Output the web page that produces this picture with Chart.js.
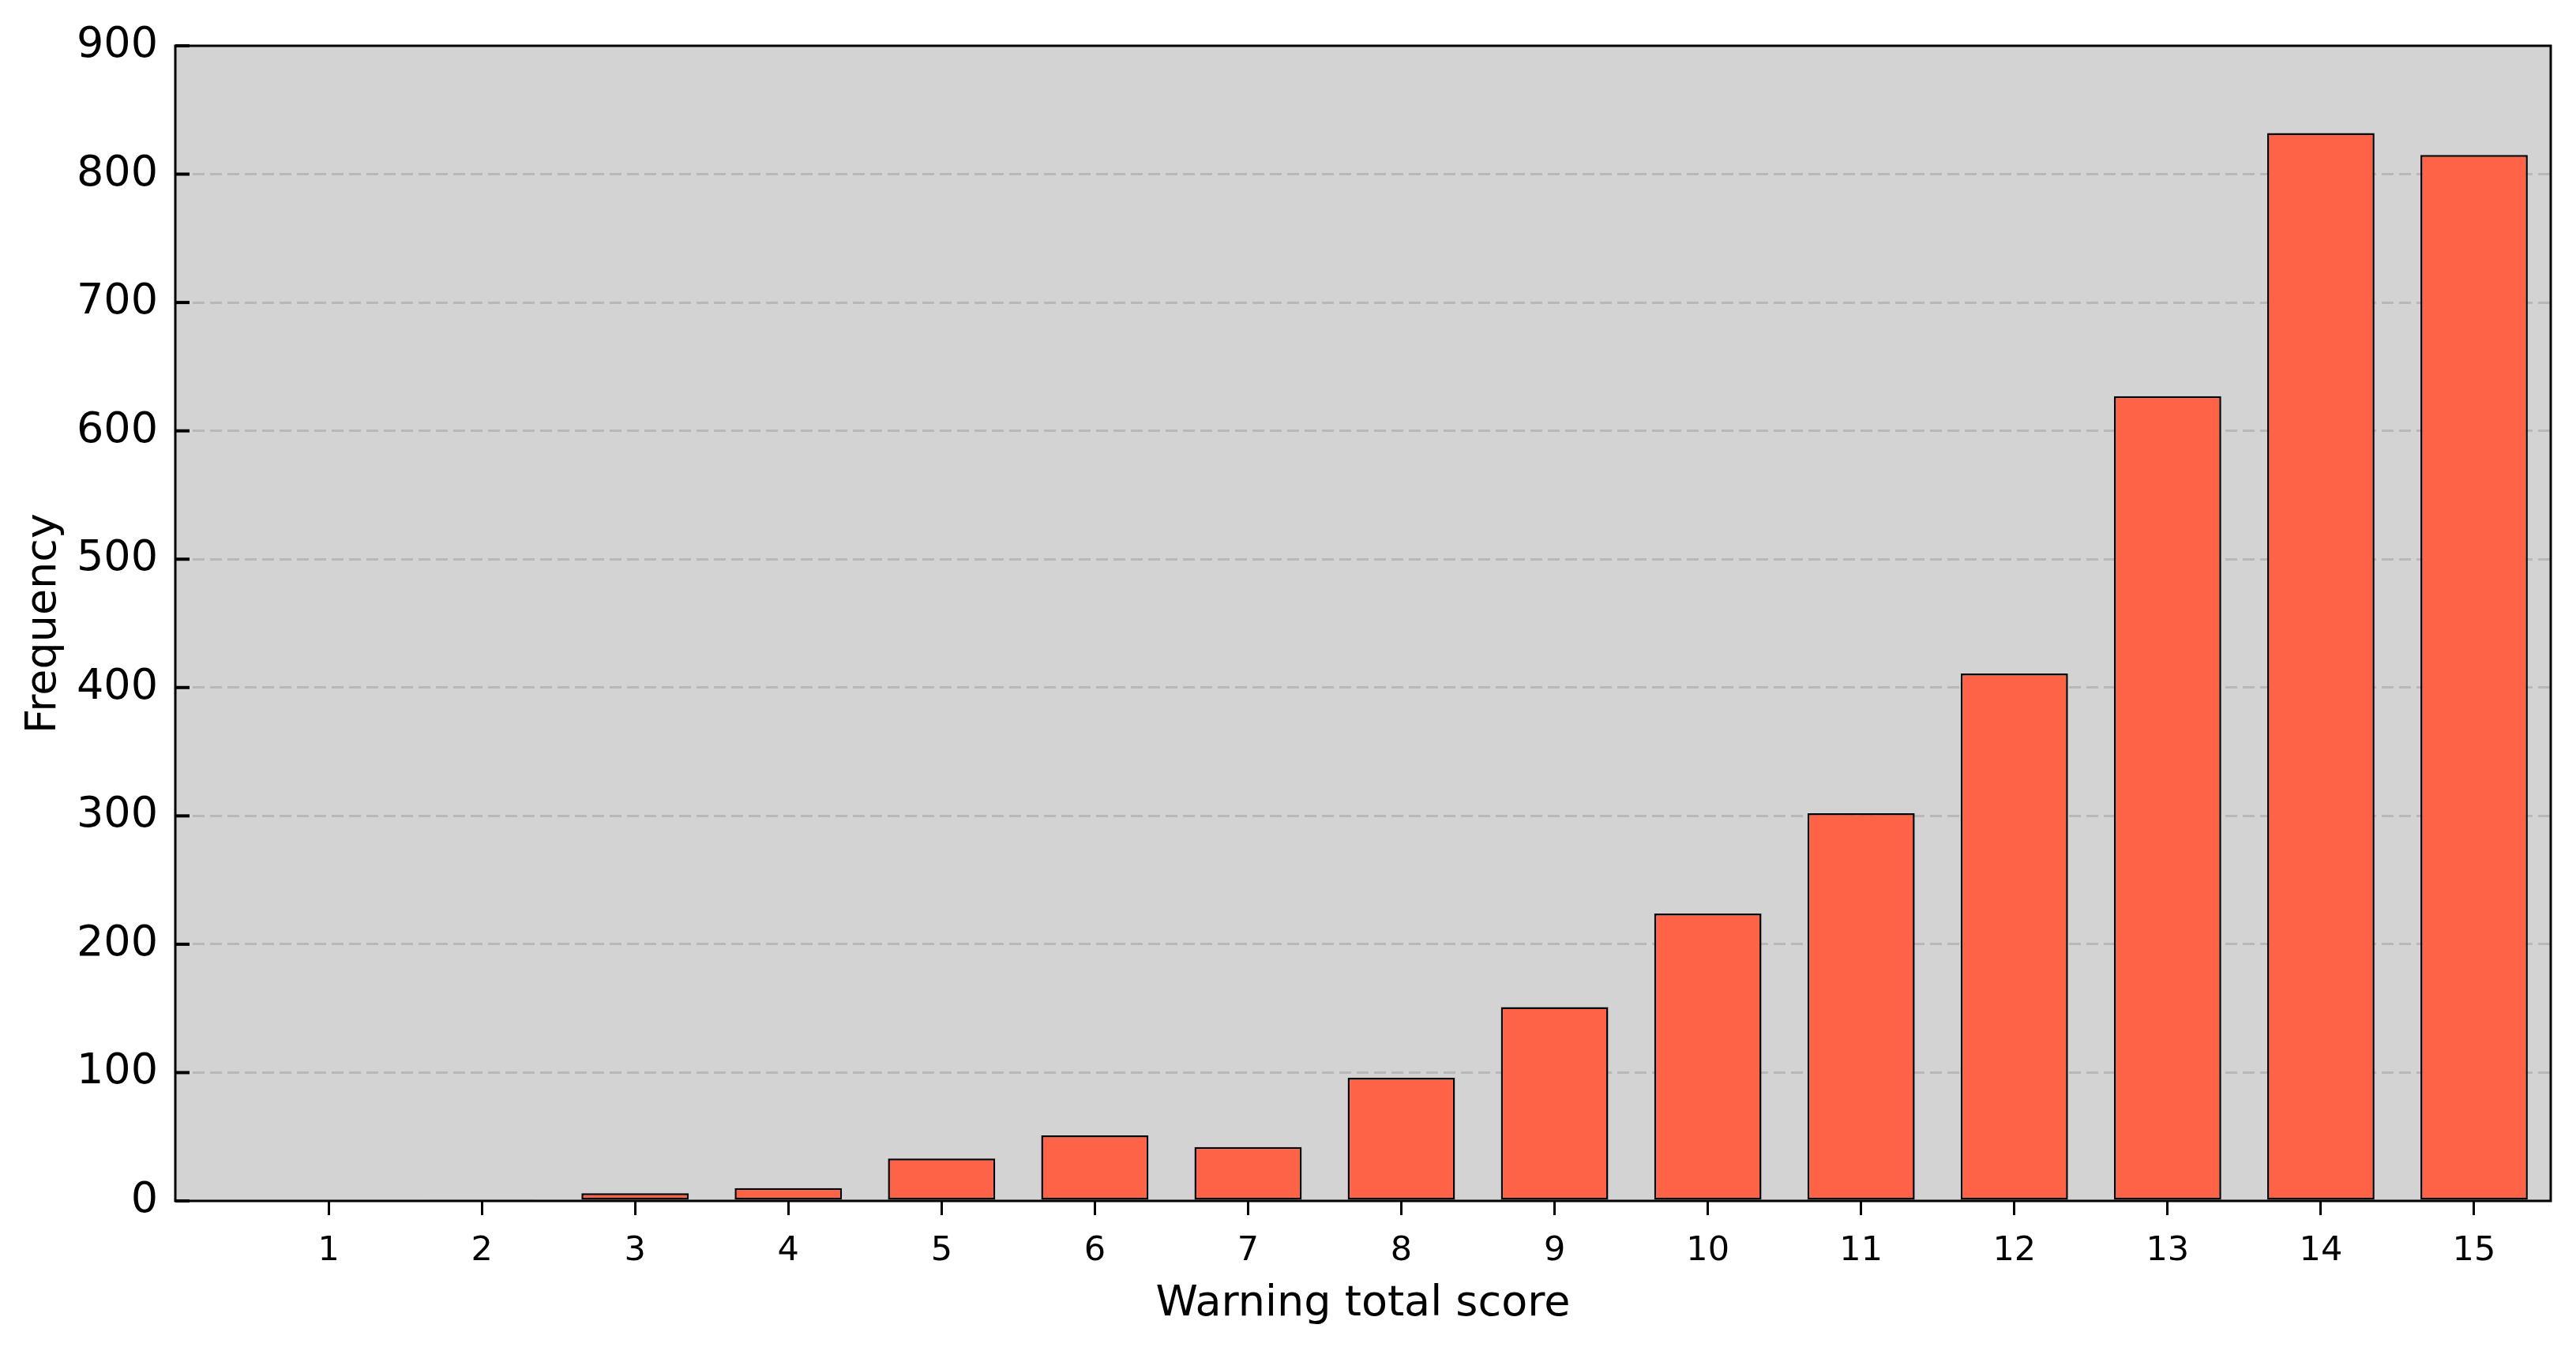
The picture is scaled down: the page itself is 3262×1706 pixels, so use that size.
<!DOCTYPE html>
<html>
<head>
<meta charset="utf-8">
<script src="https://cdn.jsdelivr.net/npm/chart.js@4/dist/chart.umd.min.js"></script>
<style>
    html, body { margin: 0; padding: 0; background: #fff; }
    #wrap { width: 3262px; height: 1706px; }
</style>
</head>
<body>
<div id="wrap"><canvas id="scoreChart"></canvas></div>
<script>
// values
const scores = [1, 2, 3, 4, 5, 6, 7, 8, 9, 10, 11, 12, 13, 14, 15];
const frequency = [0, 1, 6, 10, 33, 51, 42, 96, 151, 224, 302, 411, 627, 832, 815];
const yTicks = [0, 100, 200, 300, 400, 500, 600, 700, 800, 900];

const FONT = "'DejaVu Sans', sans-serif";

// grey plot background, black frame and the inward y tick marks
const axesFrame = {
    id: 'axesFrame',
    beforeDraw(chart) {
        const { ctx, chartArea: a } = chart;
        ctx.save();
        ctx.fillStyle = '#d3d3d3';
        ctx.fillRect(a.left, a.top, a.right - a.left, a.bottom - a.top);
        ctx.restore();
    },
    afterDraw(chart) {
        const { ctx, chartArea: a } = chart;
        const y = chart.scales.y;
        ctx.save();
        ctx.strokeStyle = '#000';
        ctx.lineWidth = 3;
        ctx.strokeRect(a.left, a.top, a.right - a.left, a.bottom - a.top);
        ctx.lineWidth = 4;
        yTicks.forEach(v => {
            const py = y.getPixelForValue(v);
            ctx.beginPath();
            ctx.moveTo(a.left, py);
            ctx.lineTo(a.left + 18, py);
            ctx.stroke();
        });
        ctx.restore();
    }
};

const ctx = document.getElementById('scoreChart').getContext('2d');

new Chart(ctx, {
    type: 'bar',
    data: {
        datasets: [{
            label: 'Frequency',
            data: scores.map((s, i) => ({ x: s, y: frequency[i] })),
            backgroundColor: '#ff6347',
            borderColor: '#000',
            borderWidth: 2.5,
            borderSkipped: false,
            barPercentage: 0.7,
            categoryPercentage: 1.0
        }]
    },
    options: {
        responsive: true,
        maintainAspectRatio: false,
        animation: false,
        layout: { padding: { left: 0, right: 32, top: 58, bottom: 0 } },
        plugins: {
            legend: { display: false },
            tooltip: { enabled: false }
        },
        scales: {
            x: {
                type: 'linear',
                min: 0,
                max: 15.5,
                offset: false,
                afterBuildTicks: scale => {
                    scale.ticks = scores.map(v => ({ value: v }));
                },
                afterFit: scale => { scale.height = 185; },
                grid: {
                    offset: false,
                    drawOnChartArea: false,
                    drawTicks: true,
                    tickLength: 18,
                    tickWidth: 3,
                    tickColor: '#000'
                },
                border: { display: false },
                ticks: {
                    color: '#000',
                    padding: 20,
                    maxRotation: 0,
                    autoSkip: false,
                    font: { family: FONT, size: 43 }
                },
                title: {
                    display: true,
                    text: 'Warning total score',
                    color: '#000',
                    font: { family: FONT, size: 54 },
                    padding: { top: 0, bottom: 22 }
                }
            },
            y: {
                min: 0,
                max: 900,
                afterBuildTicks: scale => {
                    scale.ticks = yTicks.map(v => ({ value: v }));
                },
                afterFit: scale => { scale.width = 222; },
                grid: {
                    drawTicks: false,
                    lineWidth: 3,
                    color: c => (c.tick && (c.tick.value === 0 || c.tick.value === 900)) ? 'rgba(0,0,0,0)' : '#b8b8b8'
                },
                border: { display: false, dash: [15, 7] },
                ticks: {
                    color: '#000',
                    padding: 22,
                    font: { family: FONT, size: 54 }
                },
                title: {
                    display: true,
                    text: 'Frequency',
                    color: '#000',
                    font: { family: FONT, size: 54 },
                    padding: { top: 24, bottom: 0 }
                }
            }
        }
    },
    plugins: [axesFrame]
});
</script>
</body>
</html>
